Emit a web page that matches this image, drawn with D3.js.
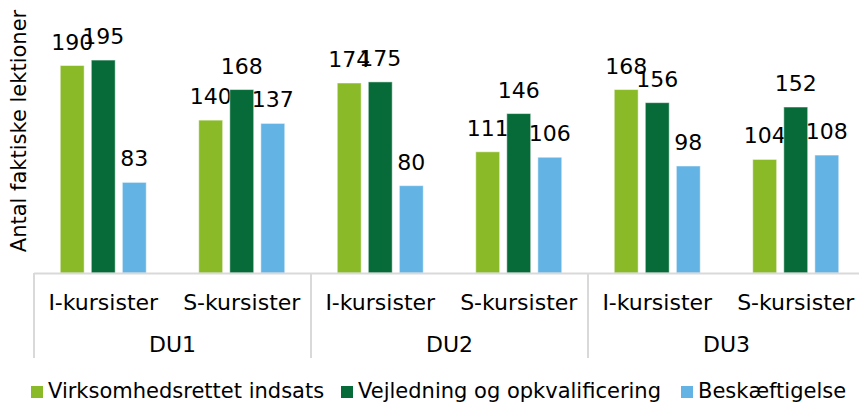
<!DOCTYPE html>
<html>
<head>
<meta charset="utf-8">
<script src="https://cdn.jsdelivr.net/npm/d3@7"></script>
<style>
  body { margin: 0; background: #fff; }
  svg { display: block; font-family: "DejaVu Sans", Verdana, sans-serif; }
</style>
</head>
<body>
<svg id="chart" width="859" height="403"></svg>
<script>
const groups = ["DU1", "DU2", "DU3"];
const subgroups = ["I-kursister", "S-kursister"];
const seriesNames = ["Virksomhedsrettet indsats", "Vejledning og opkvalificering", "Beskæftigelse"];
const seriesColors = ["#8aba27", "#066b38", "#63b4e4"];

// values per category (DU1 I, DU1 S, DU2 I, ...), one array per series
const virksomhed = [190, 140, 174, 111, 168, 104];
const vejledning = [195, 168, 175, 146, 156, 152];
const beskaeft   = [83, 137, 80, 106, 98, 108];
const seriesValues = [virksomhed, vejledning, beskaeft];

(function () {
    const svg = d3.select("#chart");
    const left = 34, right = 865, top = 0, base = 273;

    const cats = [];
    groups.forEach(g => subgroups.forEach(s => cats.push(g + "|" + s)));

    const x = d3.scaleBand().domain(cats).range([left, right]);
    const bw = x.bandwidth();
    const xs = d3.scaleBand().domain(d3.range(3))
        .range([bw / 2 - 43, bw / 2 + 43]).paddingInner(0.23).paddingOuter(0);
    const y = d3.scaleLinear().domain([0, 250]).range([base, top]);

    // bars
    seriesValues.forEach((vals, si) => {
        const g = svg.append("g");
        g.selectAll("rect").data(vals).join("rect")
            .attr("x", (d, i) => x(cats[i]) + xs(si))
            .attr("y", d => y(d))
            .attr("width", xs.bandwidth())
            .attr("height", d => base - y(d))
            .attr("fill", seriesColors[si])
            .attr("stroke", "#fff").attr("stroke-opacity", 0.5);
        g.selectAll("text").data(vals).join("text")
            .attr("x", (d, i) => x(cats[i]) + xs(si) + xs.bandwidth() / 2)
            .attr("y", d => y(d) - 16)
            .attr("text-anchor", "middle")
            .style("font-size", "22px").attr("fill", "#000")
            .text(d => d);
    });

    // axis line and group dividers
    svg.append("line")
        .attr("x1", left).attr("x2", 859).attr("y1", base + 0.5).attr("y2", base + 0.5)
        .attr("stroke", "#d9d9d9").attr("stroke-width", 2);
    const gw = bw * subgroups.length;
    groups.forEach((g, gi) => {
        const gx = left + gi * gw;
        svg.append("line")
            .attr("x1", gx).attr("x2", gx).attr("y1", base).attr("y2", 358)
            .attr("stroke", "#d9d9d9").attr("stroke-width", 2);
        svg.append("text")
            .attr("x", gx + gw / 2).attr("y", 352)
            .attr("text-anchor", "middle")
            .style("font-size", "22px").attr("fill", "#000")
            .text(g);
    });

    // category labels
    svg.selectAll(".cat").data(cats).join("text")
        .attr("x", d => x(d) + bw / 2)
        .attr("y", 310)
        .attr("text-anchor", "middle")
        .style("font-size", "22px").attr("fill", "#000")
        .text(d => d.split("|")[1]);

    // y axis title
    svg.append("text")
        .attr("transform", "translate(26,131) rotate(-90)")
        .attr("text-anchor", "middle")
        .style("font-size", "21px").attr("fill", "#000")
        .text("Antal faktiske lektioner");

    // legend
    const legX = [31, 341, 681];
    seriesNames.forEach((n, i) => {
        svg.append("rect")
            .attr("x", legX[i]).attr("y", 386).attr("width", 12).attr("height", 12)
            .attr("fill", seriesColors[i]);
        svg.append("text")
            .attr("x", legX[i] + 17).attr("y", 398)
            .style("font-size", "21px").attr("fill", "#000")
            .text(n);
    });
})();
</script>
</body>
</html>
